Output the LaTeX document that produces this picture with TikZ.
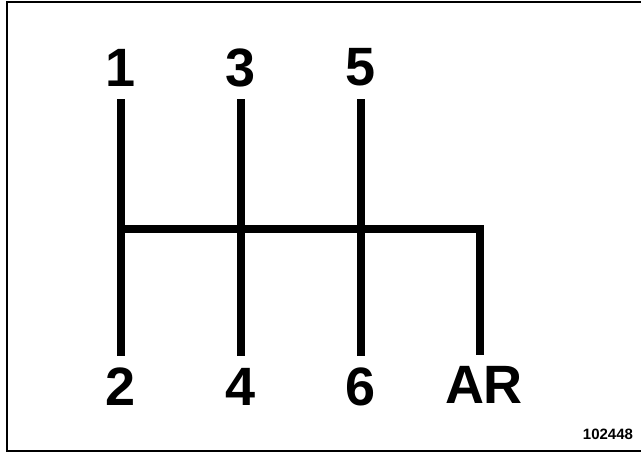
\documentclass[tikz,border=0pt]{standalone}
\usepackage{fontspec}
\setmainfont{Liberation Sans}
\tikzset{
  gear/.style={font=\fontsize{54}{54}\selectfont\bfseries, inner sep=0pt},
  rail/.style={line width=8pt, line join=miter},
}

\begin{document}
\begin{tikzpicture}[x=1pt,y=-1pt]
  \useasboundingbox (0,0) rectangle (641,453);
  \draw[line width=2pt] (7,2) rectangle (645,451);
  % gear numbers
  \node[gear] (g1) at (121,67.5) {1};
  \node[gear] (g3) at (241,67.5) {3};
  \node[gear] (g5) at (361,67.5) {5};
  \node[gear] (g2) at (121,386.5) {2};
  \node[gear] (g4) at (241,386.5) {4};
  \node[gear] (g6) at (361,386.5) {6};
  \node[gear] (gR) at (484,385) {AR};
  % ends of the gate
  \coordinate (t1) at (121,99);  \coordinate (b2) at (121,356);
  \coordinate (t3) at (241,99);  \coordinate (b4) at (241,356);
  \coordinate (t5) at (361,99);  \coordinate (b6) at (361,356);
  \coordinate (n1) at (121,228.5);
  \coordinate (nR) at (480,228.5); \coordinate (bR) at (480,355);
  \draw[rail] (t1) -- (b2);
  \draw[rail] (t3) -- (b4);
  \draw[rail] (t5) -- (b6);
  \draw[rail] (n1) -- (nR) -- (bR);
  \node[font=\fontsize{15}{15}\selectfont\bfseries, inner sep=0pt] (ref) at (608,434.5) {102448};
\end{tikzpicture}
\end{document}
